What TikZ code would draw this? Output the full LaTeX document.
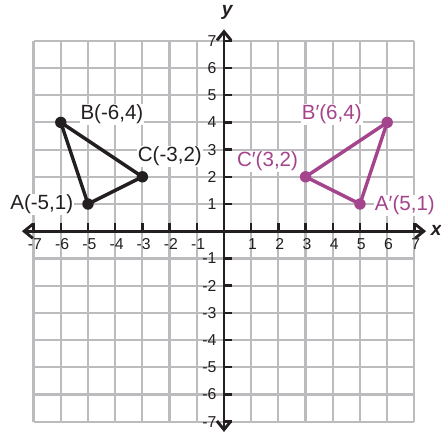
\documentclass[tikz,border=0pt]{standalone}
\usepackage{fontspec}
\setmainfont{Liberation Sans}
\usepackage{tikz}
\usetikzlibrary{
  arrows.meta,
  positioning
}
\definecolor{gridgray}{RGB}{188,188,191}
\definecolor{inkblack}{RGB}{35,31,32}
\definecolor{imgmagenta}{RGB}{163,68,140}

\begin{document}
\begin{tikzpicture}[
  gridline/.style={draw=gridgray, line width=2.3pt},
  axis/.style={draw=inkblack, line width=3pt,
               {Straight Barb[length=3.2mm,width=5.2mm]}-{Straight Barb[length=3.2mm,width=5.2mm]}},
  tick/.style={draw=inkblack, line width=2.5pt},
  ticklabel/.style={text=inkblack, inner sep=0pt, font=\fontsize{16.5}{19}\selectfont},
  axislabel/.style={text=inkblack, font=\fontsize{20}{24}\selectfont\bfseries\itshape},
  ptlabel/.style={fill=white, inner sep=1pt, text=#1, font=\fontsize{21.5}{25}\selectfont},
  tri/.style={draw=#1, line width=3.6pt, line join=round},
  dot/.style={fill=#1},
]
  \useasboundingbox (-8.235,-7.38) rectangle (7.978,8.50);

  % Grid
  \draw[gridline] (-7,-7) grid (7,7);

  % Axes
  \coordinate (xl) at (-7.43,0);
  \coordinate (xr) at (7.43,0);
  \coordinate (yb) at (0,-7.38);
  \coordinate (yt) at (0,7.42);
  \draw[axis] (xl) -- (xr);
  \draw[axis] (yb) -- (yt);
  \node[axislabel] (xlab) at (7.8,0.02) {x};
  \node[axislabel] (ylab) at (0.12,8.05) {y};

  % Ticks and numbers
  \foreach \i in {-7,...,-1,1,2,...,7} {
    \draw[tick] (\i,0) -- (\i,0.3);
    \draw[tick] (0,\i) -- (0.3,\i);
    \node[ticklabel] (xt\i) at (\i+0.05,-0.47) {\i};
    \node[ticklabel, anchor=east] (yt\i) at (-0.27,\i) {\i};
  }

  % Points
  \coordinate (A) at (-5,1);
  \coordinate (B) at (-6,4);
  \coordinate (C) at (-3,2);
  \coordinate (A') at (5,1);
  \coordinate (B') at (6,4);
  \coordinate (C') at (3,2);

  % Labels
  \node[ptlabel=inkblack] (labA) at (-6.7,0.98) {A(-5,1)};
  \node[ptlabel=inkblack] (labB) at (-4.12,4.3) {B(-6,4)};
  \node[ptlabel=inkblack] (labC) at (-1.99,2.76) {C(-3,2)};
  \node[ptlabel=imgmagenta] (labA') at (6.65,0.95) {A′(5,1)};
  \node[ptlabel=imgmagenta] (labB') at (3.96,4.3) {B′(6,4)};
  \node[ptlabel=imgmagenta] (labC') at (1.6,2.57) {C′(3,2)};

  % Triangles
  \draw[tri=inkblack] (A) -- (B) -- (C) -- cycle;
  \draw[tri=imgmagenta] (A') -- (B') -- (C') -- cycle;
  \foreach \p in {A,B,C} \fill[dot=inkblack] (\p) circle (0.21);
  \foreach \p in {A',B',C'} \fill[dot=imgmagenta] (\p) circle (0.21);
\end{tikzpicture}
\end{document}
